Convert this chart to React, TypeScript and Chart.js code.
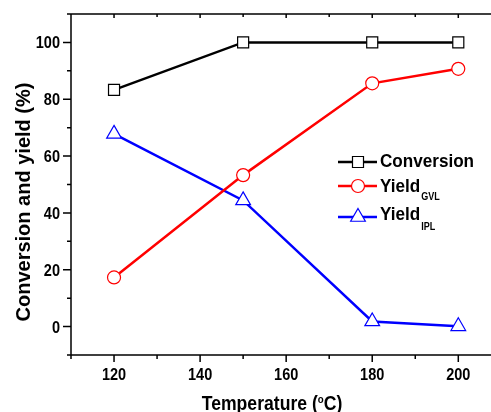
import React, { useEffect, useRef } from 'react';
import { Chart, registerables } from 'chart.js';

Chart.register(...registerables);

const temperatures = [120, 150, 180, 200];
const conversion = [83.3, 100, 100, 100];
const yieldGVL = [17.3, 53.3, 85.6, 90.7];
const yieldIPL = [67.8, 44.4, 1.8, 0.1];

const xMajorTicks = [120, 140, 160, 180, 200];
const xMinorTicks = [110, 130, 150, 170, 190];
const yMajorTicks = [0, 20, 40, 60, 80, 100];
const yMinorTicks = [-10, 10, 30, 50, 70, 90, 110];

const seriesNames = ['Conversion', 'Yield', 'Yield'];
const seriesSubs = ['', 'GVL', 'IPL'];
const seriesColors = ['#000000', '#ff0000', '#0000ff'];
const seriesStyles = ['rect', 'circle', 'triangle'];

const yTitle = 'Conversion and yield (%)';
const xTitleParts = ['Temperature (', 'o', 'C)'];

const FONT = '"Liberation Sans", Arial, Helvetica, sans-serif';
const SX = 0.88;

function drawMarker(ctx: CanvasRenderingContext2D, style: string, x: number, y: number, color: string) {
  ctx.save();
  ctx.fillStyle = '#ffffff';
  ctx.strokeStyle = color;
  ctx.lineWidth = 1.2;
  ctx.beginPath();
  if (style === 'rect') {
    ctx.rect(x - 5.5, y - 5.5, 11, 11);
  } else if (style === 'circle') {
    ctx.arc(x, y, 6.5, 0, Math.PI * 2);
  } else {
    const r = 8.5;
    ctx.moveTo(x, y - r);
    ctx.lineTo(x + r * Math.sin((2 * Math.PI) / 3), y + r * 0.5);
    ctx.lineTo(x - r * Math.sin((2 * Math.PI) / 3), y + r * 0.5);
    ctx.closePath();
  }
  ctx.fill();
  ctx.stroke();
  ctx.restore();
}

function drawScaledText(
  ctx: CanvasRenderingContext2D,
  text: string,
  x: number,
  y: number,
  align: 'left' | 'center' | 'right',
  font: string,
  sx: number
) {
  ctx.save();
  ctx.font = font;
  const w = ctx.measureText(text).width * sx;
  let start = x;
  if (align === 'center') start = x - w / 2;
  else if (align === 'right') start = x - w;
  ctx.translate(start, y);
  ctx.scale(sx, 1);
  ctx.textAlign = 'left';
  ctx.textBaseline = 'alphabetic';
  ctx.fillText(text, 0, 0);
  ctx.restore();
}

const axesPlugin = {
  id: 'axesFrame',
  beforeDatasetsDraw(chart: any) {
    const { ctx, chartArea } = chart;
    const { left, right, top, bottom } = chartArea;
    const xs = chart.scales.x;
    const ys = chart.scales.y;
    ctx.save();
    ctx.strokeStyle = '#000';
    ctx.lineWidth = 1.5;
    ctx.beginPath();
    ctx.moveTo(left, top);
    ctx.lineTo(left, bottom);
    ctx.lineTo(right, bottom);
    ctx.moveTo(left, top);
    ctx.lineTo(right, top);
    xMajorTicks.forEach((v) => {
      const px = xs.getPixelForValue(v);
      ctx.moveTo(px, bottom);
      ctx.lineTo(px, bottom + 7);
      ctx.moveTo(px, top);
      ctx.lineTo(px, top + 4);
    });
    xMinorTicks.forEach((v) => {
      const px = xs.getPixelForValue(v);
      ctx.moveTo(px, bottom);
      ctx.lineTo(px, bottom + 4);
      ctx.moveTo(px, top);
      ctx.lineTo(px, top + 3);
    });
    yMajorTicks.forEach((v) => {
      const py = ys.getPixelForValue(v);
      ctx.moveTo(left, py);
      ctx.lineTo(left - 8, py);
    });
    yMinorTicks.forEach((v) => {
      const py = ys.getPixelForValue(v);
      ctx.moveTo(left, py);
      ctx.lineTo(left - 4, py);
    });
    ctx.stroke();

    // tick labels
    ctx.fillStyle = '#000';
    const tf = `bold 16.5px ${FONT}`;
    xMajorTicks.forEach((v) => {
      const px = xs.getPixelForValue(v);
      drawScaledText(ctx, String(v), px, bottom + 25, 'center', tf, SX);
    });
    yMajorTicks.forEach((v) => {
      const py = ys.getPixelForValue(v);
      drawScaledText(ctx, String(v), left - 11, py + 6, 'right', tf, SX);
    });
    ctx.restore();
  },
};

const textPlugin = {
  id: 'titlesLegend',
  afterDraw(chart: any) {
    const { ctx } = chart;
    ctx.save();
    ctx.fillStyle = '#000';
    // Y title
    ctx.save();
    ctx.translate(30, 202);
    ctx.rotate(-Math.PI / 2);
    ctx.font = `bold 20px ${FONT}`;
    ctx.textAlign = 'center';
    ctx.textBaseline = 'alphabetic';
    ctx.fillText(yTitle, 0, 0);
    ctx.restore();

    // X title with superscript
    ctx.save();
    const big = `bold 20px ${FONT}`;
    const small = `bold 11px ${FONT}`;
    ctx.font = big;
    const w0 = ctx.measureText(xTitleParts[0]).width;
    const w2 = ctx.measureText(xTitleParts[2]).width;
    ctx.font = small;
    const w1 = ctx.measureText(xTitleParts[1]).width;
    const total = (w0 + w1 + w2) * SX;
    ctx.translate(272 - total / 2, 410);
    ctx.scale(SX, 1);
    ctx.textAlign = 'left';
    ctx.textBaseline = 'alphabetic';
    ctx.font = big;
    ctx.fillText(xTitleParts[0], 0, 0);
    ctx.font = small;
    ctx.fillText(xTitleParts[1], w0, -7);
    ctx.font = big;
    ctx.fillText(xTitleParts[2], w0 + w1, 0);
    ctx.restore();

    // Legend
    const rowsLine = [162, 186, 217];
    const rowsBase = [167, 192, 220];
    const subBase = [0, 200, 230];
    seriesNames.forEach((name, i) => {
      const ly = rowsLine[i];
      ctx.save();
      ctx.strokeStyle = seriesColors[i];
      ctx.lineWidth = 2.5;
      ctx.beginPath();
      ctx.moveTo(338, ly);
      ctx.lineTo(377, ly);
      ctx.stroke();
      ctx.restore();
      drawMarker(ctx, seriesStyles[i], 358, ly, seriesColors[i]);
      ctx.save();
      ctx.translate(380, rowsBase[i]);
      ctx.scale(0.9, 1);
      ctx.font = `bold 19px ${FONT}`;
      ctx.textAlign = 'left';
      ctx.textBaseline = 'alphabetic';
      ctx.fillStyle = '#000';
      ctx.fillText(name, 0, 0);
      const nw = ctx.measureText(name).width;
      if (seriesSubs[i]) {
        ctx.font = `bold 10px ${FONT}`;
        ctx.fillText(seriesSubs[i], nw + 1, subBase[i] - rowsBase[i]);
      }
      ctx.restore();
    });
    ctx.restore();
  },
};

export default function App() {
  const canvasRef = useRef<HTMLCanvasElement | null>(null);

  useEffect(() => {
    if (!canvasRef.current) return;
    const mk = (data: number[], i: number) => ({
      label: seriesNames[i] + seriesSubs[i],
      data: temperatures.map((t, k) => ({ x: t, y: data[k] })),
      borderColor: seriesColors[i],
      backgroundColor: '#ffffff',
      borderWidth: 2.5,
      pointStyle: seriesStyles[i] as any,
      pointRadius: i === 0 ? 7.8 : i === 1 ? 6.5 : 8.5,
      pointBorderWidth: 1.2,
      pointBackgroundColor: '#ffffff',
      pointBorderColor: seriesColors[i],
      tension: 0,
      fill: false,
      clip: false as any,
    });
    const chart = new Chart(canvasRef.current, {
      type: 'line',
      data: {
        datasets: [mk(conversion, 0), mk(yieldGVL, 1), mk(yieldIPL, 2)],
      },
      options: {
        responsive: false,
        animation: false,
        devicePixelRatio: 1,
        layout: { autoPadding: false, padding: { top: 14, left: 0, right: 0, bottom: 0 } },
        plugins: { legend: { display: false }, tooltip: { enabled: false }, title: { display: false } },
        scales: {
          x: {
            type: 'linear',
            min: 110,
            max: 207.6,
            grid: { display: false, drawTicks: false },
            border: { display: false },
            afterBuildTicks: (s: any) => {
              s.ticks = xMajorTicks.map((v) => ({ value: v }));
            },
            afterFit: (s: any) => {
              s.height = 57;
            },
            ticks: { display: false },
          },
          y: {
            type: 'linear',
            min: -10,
            max: 110,
            grid: { display: false, drawTicks: false },
            border: { display: false },
            afterBuildTicks: (s: any) => {
              s.ticks = yMajorTicks.map((v) => ({ value: v }));
            },
            afterFit: (s: any) => {
              s.width = 71;
            },
            ticks: { display: false },
          },
        },
      },
      plugins: [axesPlugin, textPlugin],
    });
    return () => chart.destroy();
  }, []);

  return (
    <div style={{ position: 'absolute', left: 0, top: 0, width: 491, height: 412, background: '#fff' }}>
      <canvas ref={canvasRef} width={491} height={412} style={{ display: 'block' }} />
    </div>
  );
}
